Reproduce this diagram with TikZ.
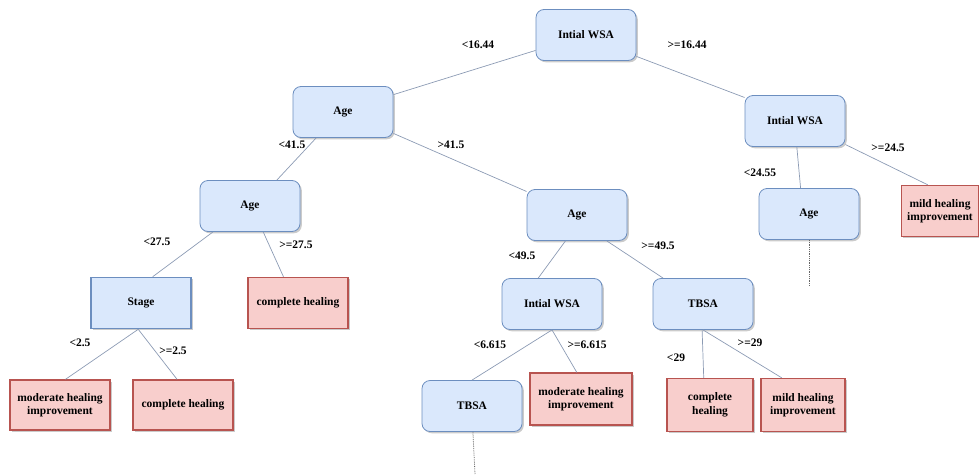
\documentclass[tikz,border=0pt]{standalone}
\usepackage{fontspec}
\setmainfont{Liberation Serif}
\usepackage{tikz}
\usetikzlibrary{positioning, shadows, calc}

\definecolor{splitfill}{HTML}{DAE8FC}
\definecolor{splitline}{HTML}{6C8EBF}
\definecolor{leaffill}{HTML}{F8CECC}
\definecolor{leafline}{HTML}{B85450}
\definecolor{branchcol}{HTML}{8C9BB4}

\tikzset{
	treefont/.style={font=\fontsize{11.5}{13.5}\selectfont\bfseries},
	boxshadow/.style={drop shadow={shadow xshift=1.8pt, shadow yshift=-1.8pt, fill=black!45, opacity=0.45}},
	splitbox/.style={treefont, draw=splitline, fill=splitfill, line width=0.8pt, rounded corners=8pt,
		minimum width=100pt, minimum height=51pt, inner sep=2pt, boxshadow},
	stagebox/.style={splitbox, rounded corners=0pt, line width=1.6pt},
	leafbox/.style={treefont, draw=leafline, fill=leaffill, line width=1.3pt, align=center,
		minimum width=100pt, minimum height=51pt, inner sep=2pt, boxshadow},
	cutlbl/.style={treefont, inner sep=0pt},
	branch/.style={draw=branchcol, line width=0.7pt},
	moredots/.style={draw=black!60, line width=0.8pt, densely dotted}
}

\begin{document}
\begin{tikzpicture}[x=1pt, y=-1pt]
	\useasboundingbox (0,0) rectangle (979,474);
	
	%// split nodes
	\node [splitbox] (root)  at (586,35)  {Intial WSA};
	\node [splitbox] (ageA)  at (343,112) {Age};
	\node [splitbox] (wsaR)  at (795,121) {Intial WSA};
	\node [splitbox] (ageB)  at (250,206) {Age};
	\node [splitbox] (ageC)  at (577,215) {Age};
	\node [splitbox] (ageR)  at (809,214) {Age};
	\node [stagebox] (stage) at (141,303) {Stage};
	\node [splitbox] (wsaC)  at (552,304) {Intial WSA};
	\node [splitbox] (tbsaC) at (703,304) {TBSA};
	\node [splitbox] (tbsaD) at (472,406) {TBSA};
	
	%// leaves
	\node [leafbox, minimum width=77pt] (mildR) at (940,211) {mild healing\\improvement};
	\node [leafbox] (compA) at (298,303) {complete healing};
	\node [leafbox, minimum height=50pt] (modA) at (60,405) {moderate healing\\improvement};
	\node [leafbox, minimum height=50pt] (compB) at (183,405) {complete healing};
	\node [leafbox, minimum width=102pt, minimum height=52pt] (modB) at (581,399) {moderate healing\\improvement};
	\node [leafbox, minimum width=86pt, minimum height=53pt] (compC) at (710,405) {complete\\healing};
	\node [leafbox, minimum width=84pt, minimum height=53pt] (mildC) at (803,405) {mild healing\\improvement};
	
	%// branches
	\foreach \a/\sa/\b/\sb in {root/197/ageA/19, root/337/wsaR/155, ageA/224/ageB/44, ageA/337/ageC/155,
		wsaR/274/ageR/108, wsaR/335/mildR/115, ageB/215/stage/66, ageB/297/compA/119,
		ageC/246/wsaC/118, ageC/319/tbsaC/147, stage/264/modA/78, stage/264/compB/103,
		wsaC/270/tbsaD/90, wsaC/270/modB/99, tbsaC/268/compC/103, tbsaC/270/mildC/128}
	\draw [branch] (\a.\sa) -- (\b.\sb);
	
	\coordinate (moreR) at (809,285);
	\coordinate (moreD) at (475,474);
	\draw [moredots] (ageR.south) -- (moreR);
	\draw [moredots] (tbsaD.272) -- (moreD);
	
	%// split values
	\foreach \n/\x/\y/\t in {a/478/45/<16.44, b/687/45/>=16.44, c/292/145/<41.5, d/451/145/>41.5,
		e/760/173/<24.55, f/888/148/>=24.5, g/157/242/<27.5, h/296/245/>=27.5,
		i/522/256/<49.5, j/658/246/>=49.5, k/80/343/<2.5, l/173/351/>=2.5,
		m/490/345/<6.615, n/587/345/>=6.615, o/676/358/<29, p/750/343/>=29}
	\node [cutlbl] (cut\n) at (\x,\y) {\t};
\end{tikzpicture}
\end{document}
